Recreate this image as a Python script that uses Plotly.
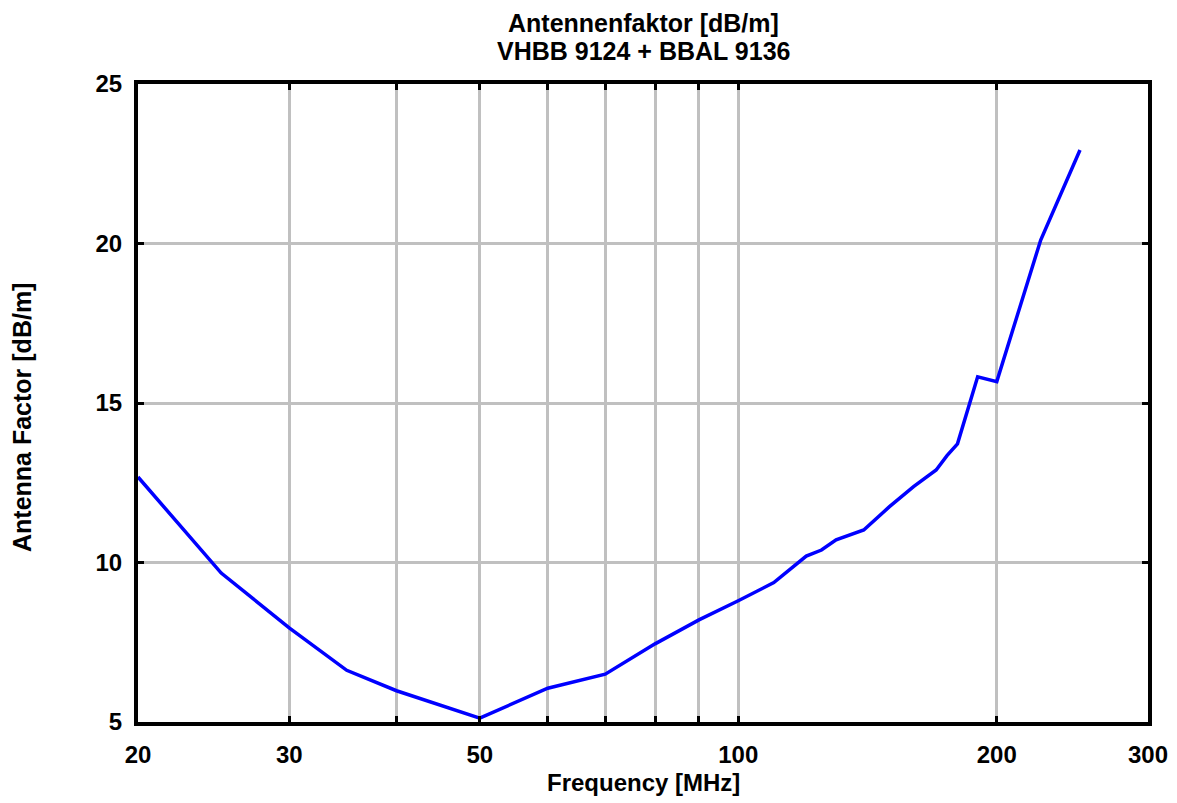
import plotly.graph_objects as go

freq_mhz = [20, 25, 30, 35, 40, 50, 60, 70, 80, 90, 100, 110, 120, 125, 130, 140,
            150, 160, 170, 175, 180, 190, 200, 225, 250]
antenna_factor = [12.68, 9.67, 7.95, 6.62, 5.98, 5.12, 6.06, 6.5, 7.45, 8.2, 8.8, 9.37,
                  10.2, 10.39, 10.71, 11.02, 11.75, 12.38, 12.9, 13.35, 13.72, 15.82,
                  15.67, 20.11, 22.93]

x_tickvals = [20, 30, 40, 50, 60, 70, 80, 90, 100, 200, 300]
x_ticktext = ["20", "30", "", "50", "", "", "", "", "100", "200", "300"]
y_tickvals = [5, 10, 15, 20, 25]

title_lines = ["Antennenfaktor [dB/m]", "VHBB 9124 + BBAL 9136"]
x_title = "Frequency [MHz]"
y_title = "Antenna Factor [dB/m]"

FONT = "Liberation Sans, Arial, sans-serif"
font_b = dict(family=FONT, size=24, color="black", weight="bold")
font_t = dict(family=FONT, size=25, color="black", weight="bold")

# page has an 8px body margin; compensate so the plot area lands where intended
L, R, T, B = 130, 37, 76, 89
W, H = 1177, 803
pw = W - L - R
ph = H - T - B

fig = go.Figure()
fig.add_trace(go.Scatter(
    x=freq_mhz, y=antenna_factor, mode="lines",
    line=dict(color="#0000ff", width=3.5),
    showlegend=False,
))

annotations = [
    dict(text=title_lines[0], xref="paper", yref="paper", x=0.5, y=1 + 61 / ph,
         xanchor="center", yanchor="middle", showarrow=False, font=font_t, borderpad=0),
    dict(text=title_lines[1], xref="paper", yref="paper", x=0.5, y=1 + 33 / ph,
         xanchor="center", yanchor="middle", showarrow=False, font=font_t, borderpad=0),
    dict(text=x_title, xref="paper", yref="paper", x=0.5, y=-60 / ph,
         xanchor="center", yanchor="middle", showarrow=False, font=font_b, borderpad=0),
    dict(text=y_title, xref="paper", yref="paper", x=-116 / pw, y=0.5 - 15 / ph,
         xanchor="center", yanchor="middle", showarrow=False, textangle=-90, font=font_t),
]

fig.update_layout(
    width=W, height=H,
    margin=dict(l=L, r=R, t=T, b=B),
    paper_bgcolor="white", plot_bgcolor="white",
    font=font_b,
    annotations=annotations,
    xaxis=dict(
        type="log",
        range=[1.30103, 2.47712],
        tickvals=x_tickvals, ticktext=x_ticktext,
        showgrid=True, gridcolor="#c0c0c0", gridwidth=3,
        showline=True, linecolor="black", linewidth=4, mirror="ticks",
        ticks="inside", ticklen=6, tickwidth=3, tickcolor="black",
        tickfont=font_b,
        zeroline=False,
        ticklabelstandoff=8,
    ),
    yaxis=dict(
        range=[5, 25],
        tickvals=y_tickvals,
        showgrid=True, gridcolor="#c0c0c0", gridwidth=3,
        showline=True, linecolor="black", linewidth=4, mirror="ticks",
        ticks="inside", ticklen=6, tickwidth=3, tickcolor="black",
        tickfont=font_b,
        zeroline=False,
        ticklabelstandoff=7,
    ),
)

fig.write_html("out.html")
